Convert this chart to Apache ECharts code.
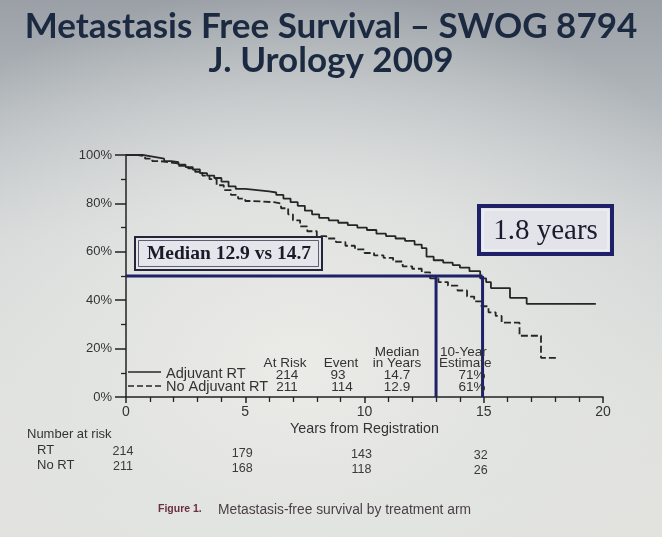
<!DOCTYPE html>
<html><head><meta charset="utf-8">
<script src="https://cdn.jsdelivr.net/npm/echarts@6/dist/echarts.min.js"></script>
<style>
html,body{margin:0;padding:0;width:662px;height:537px;overflow:hidden;}
body{background:
 radial-gradient(ellipse 75% 70% at 45% 68%, rgba(235,235,231,1) 0%, rgba(226,228,226,0.9) 45%, rgba(200,205,208,0) 100%),
 linear-gradient(180deg,#9aa0a6 0%,#b4b9bd 22%,#cfd2d3 45%,#dfe0dd 75%,#e2e2dd 100%);}
#c{width:662px;height:537px;}
</style></head><body>
<div id="c"></div>
<script>
// ---- data ----
const rtTimes = [0,0.7,1.0,1.3,1.6,1.9,2.2,2.5,2.8,3.1,3.4,3.7,4.0,4.3,4.6,5.0,5.5,6.0,6.3,6.6,6.9,7.2,7.5,7.8,8.1,8.5,8.9,9.3,9.7,10.1,10.5,10.9,11.3,11.7,12.1,12.4,12.6,12.9,13.3,13.7,14.0,14.4,14.85,15.1,15.3,16.1,16.8,19.7];
const rtSurv  = [100,99.5,99,98.5,97.5,97,96,95,94,92.5,91.5,90.5,89,87,86,85.5,85,84.5,83.5,82,80.5,79,77,75.5,74,73,72,71,70,69,67.5,66.5,65.5,64.5,63,61.5,58,56.5,55.5,54.5,53.5,52,49,47.5,45,41,38.5,38.5];
const noTimes = [0,0.5,0.8,1.1,1.4,1.8,2.2,2.6,2.9,3.2,3.5,3.8,4.1,4.4,4.7,5.0,5.3,6.2,6.5,6.8,7.0,7.3,7.6,8.0,8.4,8.8,9.2,9.6,10.0,10.4,10.8,11.2,11.6,12.0,12.4,12.75,13.1,13.5,13.9,14.3,14.6,14.9,15.2,15.5,15.75,16.5,17.4,18.1];
const noSurv  = [100,99.5,98.5,97.5,97,96.5,95.5,94.5,93,91.5,90,87.5,85.5,83.5,82,81,80.5,80,78,75.5,73,70.5,68.5,66.5,65.5,64,62.5,61,59.5,58.5,57.5,56,54,53,51.5,49,47.5,46,44,41.5,39.5,37.5,35,33.5,30.7,25.3,16.2,16.2];
const medianLevel = 50;
const medianMarksX = [13.0, 14.95];
const riskTimes = [0,5,10,15];
const riskRT   = [214,179,143,32];
const riskNoRT = [211,168,118,26];
const yTickLabels = ['0%','20%','40%','60%','80%','100%'];
const xTickLabels = ['0','5','10','15','20'];

const rtData = rtTimes.map((t,i)=>[t,rtSurv[i]]);
const noData = noTimes.map((t,i)=>[t,noSurv[i]]);
const NAVY = '#1e2168';
const chart = echarts.init(document.getElementById('c'));
const option = {
  backgroundColor:'transparent',
  animation:false,
  grid:{left:126,right:59,top:155,bottom:140},
  xAxis:{type:'value',min:0,max:20,interval:5,
    axisLine:{lineStyle:{color:'#222',width:1.5}},
    axisTick:{length:6,lineStyle:{color:'#222',width:1.5}},
    minorTick:{show:true,splitNumber:5,length:5,lineStyle:{color:'#222',width:1.3}},
    splitLine:{show:false},
    axisLabel:{color:'#333',fontSize:14,fontFamily:'Liberation Sans',margin:8,
      formatter:v=>xTickLabels[Math.round(v/5)]},
    name:'Years from Registration',nameLocation:'middle',nameGap:25,
    nameTextStyle:{color:'#333',fontSize:14.3,fontFamily:'Liberation Sans'}},
  yAxis:{type:'value',min:0,max:100,interval:20,
    axisLine:{show:true,lineStyle:{color:'#222',width:1.5}},
    axisTick:{show:true,length:11,lineStyle:{color:'#222',width:1.5}},
    minorTick:{show:true,splitNumber:2,length:5,lineStyle:{color:'#222',width:1.3}},
    splitLine:{show:false},
    axisLabel:{color:'#333',fontSize:13,fontFamily:'Liberation Sans',margin:14,
      formatter:v=>yTickLabels[Math.round(v/20)]}},
  series:[
    {name:'Adjuvant RT',type:'line',step:'end',data:rtData,symbol:'none',
      lineStyle:{color:'#262626',width:1.8}},
    {name:'No Adjuvant RT',type:'line',step:'end',data:noData,symbol:'none',
      lineStyle:{color:'#262626',width:1.8,type:[7,3]}},
    {name:'medianH',type:'line',data:[[0,medianLevel],[medianMarksX[1],medianLevel]],symbol:'none',
      lineStyle:{color:NAVY,width:3},z:5},
    {name:'medianV1',type:'line',data:[[medianMarksX[0],medianLevel],[medianMarksX[0],0]],symbol:'none',
      lineStyle:{color:NAVY,width:3},z:5},
    {name:'medianV2',type:'line',data:[[medianMarksX[1],medianLevel],[medianMarksX[1],0]],symbol:'none',
      lineStyle:{color:NAVY,width:3},z:5}
  ]
};
chart.setOption(option);

const F = 'Liberation Sans';
const txt = (x,y,s,o={}) => ({type:'text',x:x,y:y,z:20,style:Object.assign({text:s,fill:'#333',font:'13px '+F,textAlign:'left',textVerticalAlign:'middle'},o)});
const g = [];
// title
g.push(txt(331,27,'Metastasis Free Survival – SWOG 8794',{font:'bold 35px Lato',fill:'#1b2a40',textAlign:'center'}));
g.push(txt(331,61,'J. Urology 2009',{font:'bold 35px Lato',fill:'#1b2a40',textAlign:'center'}));
// legend samples
g.push({type:'line',z:20,shape:{x1:128,y1:372,x2:161,y2:372},style:{stroke:'#262626',lineWidth:1.5}});
g.push({type:'line',z:20,shape:{x1:128,y1:386,x2:161,y2:386},style:{stroke:'#262626',lineWidth:1.5,lineDash:[6,3]}});
g.push(txt(166,374,'Adjuvant RT',{font:'14.5px '+F}));
g.push(txt(166,387,'No Adjuvant RT',{font:'14.5px '+F}));
// table
const tc = (x,y,s)=>txt(x,y,s,{textAlign:'center',font:'13.5px '+F});
g.push(tc(285,363,'At Risk')); g.push(tc(287,375,'214')); g.push(tc(287,387,'211'));
g.push(tc(341,363,'Event')); g.push(tc(338,375,'93')); g.push(tc(342,387,'114'));
g.push(tc(397,352,'Median')); g.push(tc(397,363,'in Years')); g.push(tc(397,375,'14.7')); g.push(tc(397,387,'12.9'));
g.push(txt(440,352,'10-Year',{font:'13.5px '+F})); g.push(txt(439,363,'Estimate',{font:'13.5px '+F}));
g.push(tc(472,375,'71%')); g.push(tc(472,387,'61%'));
// boxes
g.push({type:'rect',z:15,shape:{x:135,y:237,width:187,height:33},style:{fill:'#e4e6ec',stroke:'#23253a',lineWidth:2}});
g.push({type:'rect',z:16,shape:{x:138.5,y:240.5,width:180,height:26},style:{fill:'none',stroke:'#3a3c50',lineWidth:0.8}});
g.push(txt(229,254,'Median 12.9 vs 14.7',{font:'bold 19.5px "Liberation Serif"',fill:'#1a1a28',textAlign:'center'}));
g.push({type:'rect',z:15,shape:{x:479,y:206,width:133,height:48},style:{fill:'#e2e4ea',stroke:NAVY,lineWidth:4}});
g.push({type:'rect',z:16,shape:{x:483,y:210,width:125,height:40},style:{fill:'none',stroke:'#f4f5f8',lineWidth:1}});
g.push(txt(545.5,231,'1.8 years',{font:'29px "Liberation Serif"',fill:'#1a1b2e',textAlign:'center'}));
// number at risk
g.push(txt(27,434,'Number at risk',{font:'13px '+F}));
g.push(txt(37,450,'RT',{font:'13px '+F}));
g.push(txt(37,465,'No RT',{font:'13px '+F}));
riskTimes.forEach((t,i)=>{
  const px = chart.convertToPixel({xAxisIndex:0},t);
  g.push(txt(px-3,452+i*1.3,String(riskRT[i]),{textAlign:'center',font:'12.5px '+F,fill:'#3a3a3a'}));
  g.push(txt(px-3,467+i*1.3,String(riskNoRT[i]),{textAlign:'center',font:'12.5px '+F,fill:'#3a3a3a'}));
});
// caption
g.push(txt(158,509,'Figure 1.',{font:'bold 10.5px '+F,fill:'#6a3040'}));
g.push(txt(218,510,'Metastasis-free survival by treatment arm',{font:'13.8px '+F,fill:'#4b3f47'}));
chart.setOption({graphic:{elements:g}});
</script>
</body></html>
